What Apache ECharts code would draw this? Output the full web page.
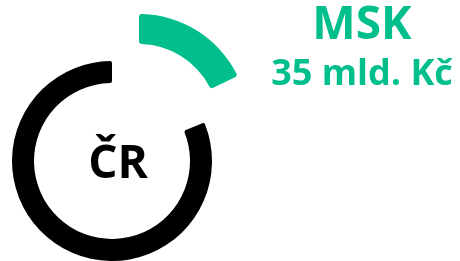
<!DOCTYPE html>
<html>
<head>
<meta charset="utf-8">
<script src="https://cdn.jsdelivr.net/npm/echarts@6/dist/echarts.min.js"></script>
<style>
  html, body { margin: 0; padding: 0; background: #fff; }
  #chart { width: 460px; height: 261px; }
</style>
</head>
<body>
<div id="chart"></div>
<script>
// data (mld. Kč)
const regionNames = ['MSK', 'Zbytek ČR'];
const regionValues = [35, 161];
const totalLabel = 'ČR';
const unitLabel = 'mld. Kč';

const GREEN = '#00bf8c';
const FONT = '"Open Sans", "Noto Sans", sans-serif';

const chart = echarts.init(document.getElementById('chart'), null, { renderer: 'canvas' });

// black ring: whole ČR except the MSK slice
const ringData = regionNames.map((name, i) => ({
  name,
  value: regionValues[i],
  itemStyle: i === 0 ? { color: 'rgba(0,0,0,0)' } : { color: '#000', borderRadius: 2 },
}));

// green slice pulled out of the ring
const sliceData = regionNames.map((name, i) => ({
  name,
  value: regionValues[i],
  itemStyle: i === 0 ? { color: GREEN, borderRadius: 3 } : { color: 'rgba(0,0,0,0)' },
}));

const option = {
  animation: false,
  series: [
    {
      type: 'pie',
      silent: true,
      center: [112, 161],
      radius: [78, 100],
      startAngle: 88.5,
      padAngle: 3,
      label: { show: false },
      labelLine: { show: false },
      data: ringData,
    },
    {
      type: 'pie',
      silent: true,
      center: [139, 123.5],
      radius: [79.5, 109.5],
      startAngle: 90,
      label: { show: false },
      labelLine: { show: false },
      data: sliceData,
    },
  ],
  graphic: [
    {
      type: 'text',
      x: 118, y: 188,
      style: {
        text: totalLabel,
        fill: '#000',
        font: 'bold 46px ' + FONT,
        textAlign: 'center',
        textVerticalAlign: 'bottom',
      },
    },
    {
      type: 'text',
      x: 362, y: 49,
      style: {
        text: regionNames[0],
        fill: GREEN,
        font: 'bold 46px ' + FONT,
        textAlign: 'center',
        textVerticalAlign: 'bottom',
      },
    },
    {
      type: 'text',
      x: 362, y: 93,
      style: {
        text: regionValues[0] + ' ' + unitLabel,
        fill: GREEN,
        font: 'bold 36px ' + FONT,
        textAlign: 'center',
        textVerticalAlign: 'bottom',
      },
    },
  ],
};

chart.setOption(option);
</script>
</body>
</html>
